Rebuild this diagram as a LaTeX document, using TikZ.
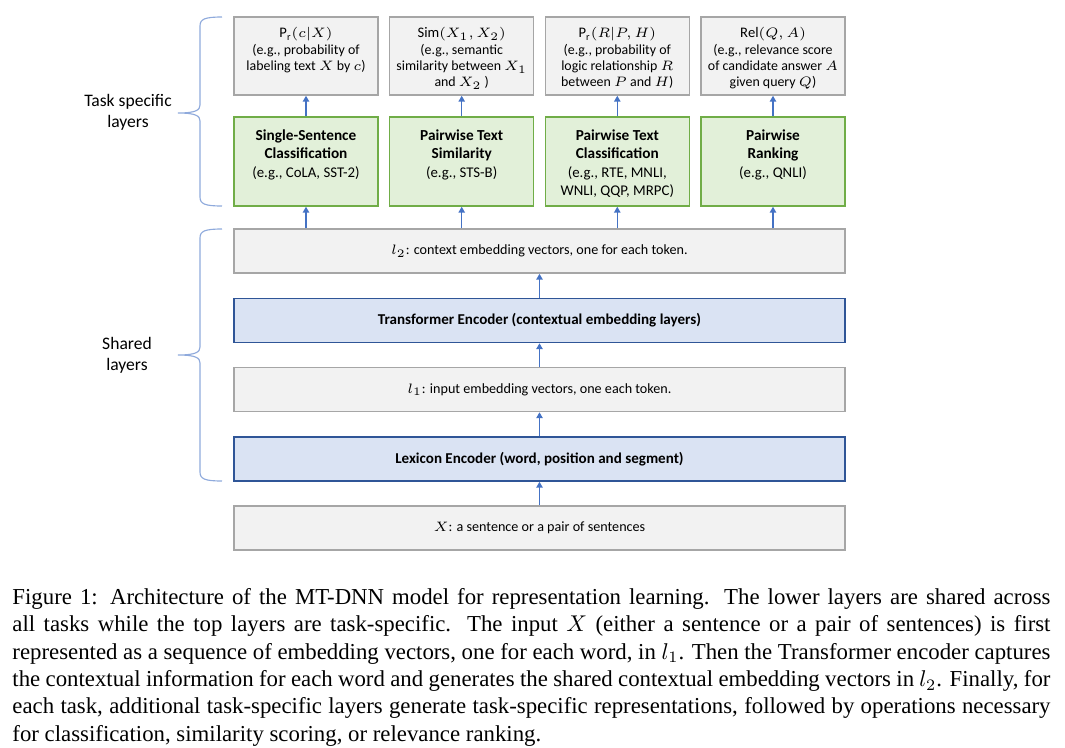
\documentclass[tikz,border=0pt]{standalone}
\usepackage{fontspec}
\setmainfont{Carlito}
\newfontfamily\capfont{Liberation Serif}
\usetikzlibrary{arrows.meta, positioning, calc}
\definecolor{boxgray}{HTML}{F2F2F2}
\definecolor{linegray}{HTML}{A6A6A6}
\definecolor{taskgreen}{HTML}{E2F0D9}
\definecolor{linegreen}{HTML}{70AD47}
\definecolor{encblue}{HTML}{DAE3F3}
\definecolor{lineblue}{HTML}{2F5597}
\definecolor{arrowblue}{HTML}{4472C4}
\definecolor{bracecol}{HTML}{8FAADC}
\tikzset{
    outbox/.style={
        rectangle, draw=linegray, line width=0.65pt,
        minimum width=63.1pt, minimum height=34.2pt,
        fill=boxgray
    },
    taskbox/.style={
        rectangle, draw=linegreen, line width=0.65pt,
        minimum width=63.1pt, minimum height=39pt,
        fill=taskgreen
    },
    vecbox/.style={
        rectangle, draw=linegray, line width=0.65pt,
        minimum width=267.9pt, minimum height=19.3pt,
        fill=boxgray, font=\fontsize{6.2}{7.3}\selectfont
    },
    encbox/.style={
        rectangle, draw=lineblue, line width=0.65pt,
        minimum width=267.9pt, minimum height=19.3pt,
        fill=encblue, font=\fontsize{6.6}{7.8}\selectfont\bfseries
    },
    outtext/.style={inner sep=0pt, anchor=north, align=center,
        font=\fontsize{6.1}{7.2}\selectfont},
    tasktext/.style={inner sep=0pt, anchor=north, align=center,
        font=\fontsize{6.7}{8.1}\selectfont},
    sidelabel/.style={align=center, font=\fontsize{7.7}{9.2}\selectfont},
    wire/.style={draw=arrowblue, line width=0.6pt, -{Triangle[width=2.8pt,length=2.6pt]}},
    brace/.style={draw=bracecol, line width=0.5pt}
}
\newcommand{\eg}[1]{{\fontsize{6.5}{7.5}\selectfont #1}}
\newcommand{\head}[1]{{\fontsize{6.4}{7.2}\selectfont #1}}

\begin{document}
\begin{tikzpicture}[x=0.4385pt, y=-0.4385pt]
\useasboundingbox (0,0) rectangle (1065,748);

% Task specific layers: outputs
\node[outbox] (out_cls) at (306,56) {};
\node[outbox] (out_sim) at (461.7,56) {};
\node[outbox] (out_rte) at (617.3,56) {};
\node[outbox] (out_rank) at (773,56) {};
\node[outtext] (out_cls_txt) at (306,27) {\head{$\mathrm{P_r}(c|X)$}\\(e.g., probability of\\labeling text $X$ by $c$)};
\node[outtext] (out_sim_txt) at (461.7,27) {\head{$\mathrm{Sim}(X_1,X_2)$}\\(e.g., semantic\\similarity between $X_1$\\and $X_2$ )};
\node[outtext] (out_rte_txt) at (617.3,27) {\head{$\mathrm{P_r}(R|P,H)$}\\(e.g., probability of\\logic relationship $R$\\between $P$ and $H$)};
\node[outtext] (out_rank_txt) at (773,27) {\head{$\mathrm{Rel}(Q,A)$}\\(e.g., relevance score\\of candidate answer $A$\\given query $Q$)};

% Task specific layers: tasks
\node[taskbox] (task_cls) at (306,161.5) {};
\node[taskbox] (task_sim) at (461.7,161.5) {};
\node[taskbox] (task_rte) at (617.3,161.5) {};
\node[taskbox] (task_rank) at (773,161.5) {};
\node[tasktext] (task_cls_txt) at (306,129) {\textbf{Single-Sentence}\\\textbf{Classification}\\\eg{(e.g., CoLA, SST-2)}};
\node[tasktext] (task_sim_txt) at (461.7,129) {\textbf{Pairwise Text}\\\textbf{Similarity}\\\eg{(e.g., STS-B)}};
\node[tasktext] (task_rte_txt) at (617.3,129) {\textbf{Pairwise Text}\\\textbf{Classification}\\\eg{(e.g., RTE, MNLI,}\\\eg{WNLI, QQP, MRPC)}};
\node[tasktext] (task_rank_txt) at (773,129) {\textbf{Pairwise}\\\textbf{Ranking}\\\eg{(e.g., QNLI)}};

% Shared layers
\node[vecbox] (l2_vec) at (539.5,251) {$l_2$: context embedding vectors, one for each token.};
\node[encbox] (transformer) at (539.5,320.5) {Transformer Encoder (contextual embedding layers)};
\node[vecbox] (l1_vec) at (539.5,389.5) {$l_1$: input embedding vectors, one each token.};
\node[encbox] (lexicon) at (539.5,459) {Lexicon Encoder (word, position and segment)};
\node[vecbox] (input_x) at (539.5,528) {$X$: a sentence or a pair of sentences};

% Braces and labels
\draw[brace] (222,17) .. controls (205,17) and (200,19) .. (200,26) -- (200,105)
    .. controls (200,110) and (196,113) .. (178,113)
    .. controls (196,113) and (200,116) .. (200,121) -- (200,197)
    .. controls (200,204) and (205,206) .. (222,206);
\draw[brace] (222,229) .. controls (205,229) and (200,231) .. (200,238) -- (200,347)
    .. controls (200,352) and (196,355) .. (178,355)
    .. controls (196,355) and (200,358) .. (200,363) -- (200,472)
    .. controls (200,479) and (205,481) .. (222,481);
\node[sidelabel] (task_label) at (128,112) {Task specific\\layers};
\node[sidelabel] (shared_label) at (127,355) {Shared\\layers};

% Connections
\draw[wire] (input_x) -- (lexicon);
\draw[wire] (lexicon) -- (l1_vec);
\draw[wire] (l1_vec) -- (transformer);
\draw[wire] (transformer) -- (l2_vec);
\draw[wire] (l2_vec.north -| task_cls) -- (task_cls);
\draw[wire] (l2_vec.north -| task_sim) -- (task_sim);
\draw[wire] (l2_vec.north -| task_rte) -- (task_rte);
\draw[wire] (l2_vec.north -| task_rank) -- (task_rank);
\draw[wire] (task_cls) -- (out_cls);
\draw[wire] (task_sim) -- (out_sim);
\draw[wire] (task_rte) -- (out_rte);
\draw[wire] (task_rank) -- (out_rank);

% Caption
\node[anchor=north west, inner sep=0pt, text width=455.2pt, align=justify,
      font=\capfont\fontsize{10}{12}\selectfont] (caption) at (12,588)
{Figure 1: Architecture of the MT-DNN model for representation learning.  The lower layers are shared across\linebreak
all tasks while the top layers are task-specific.  The input $X$ (either a sentence or a pair of sentences) is first\linebreak
represented as a sequence of embedding vectors, one for each word, in $l_1$. Then the Transformer encoder captures\linebreak
the contextual information for each word and generates the shared contextual embedding vectors in $l_2$. Finally, for\linebreak
each task, additional task-specific layers generate task-specific representations, followed by operations necessary\linebreak
for classification, similarity scoring, or relevance ranking.};

\end{tikzpicture}
\end{document}
